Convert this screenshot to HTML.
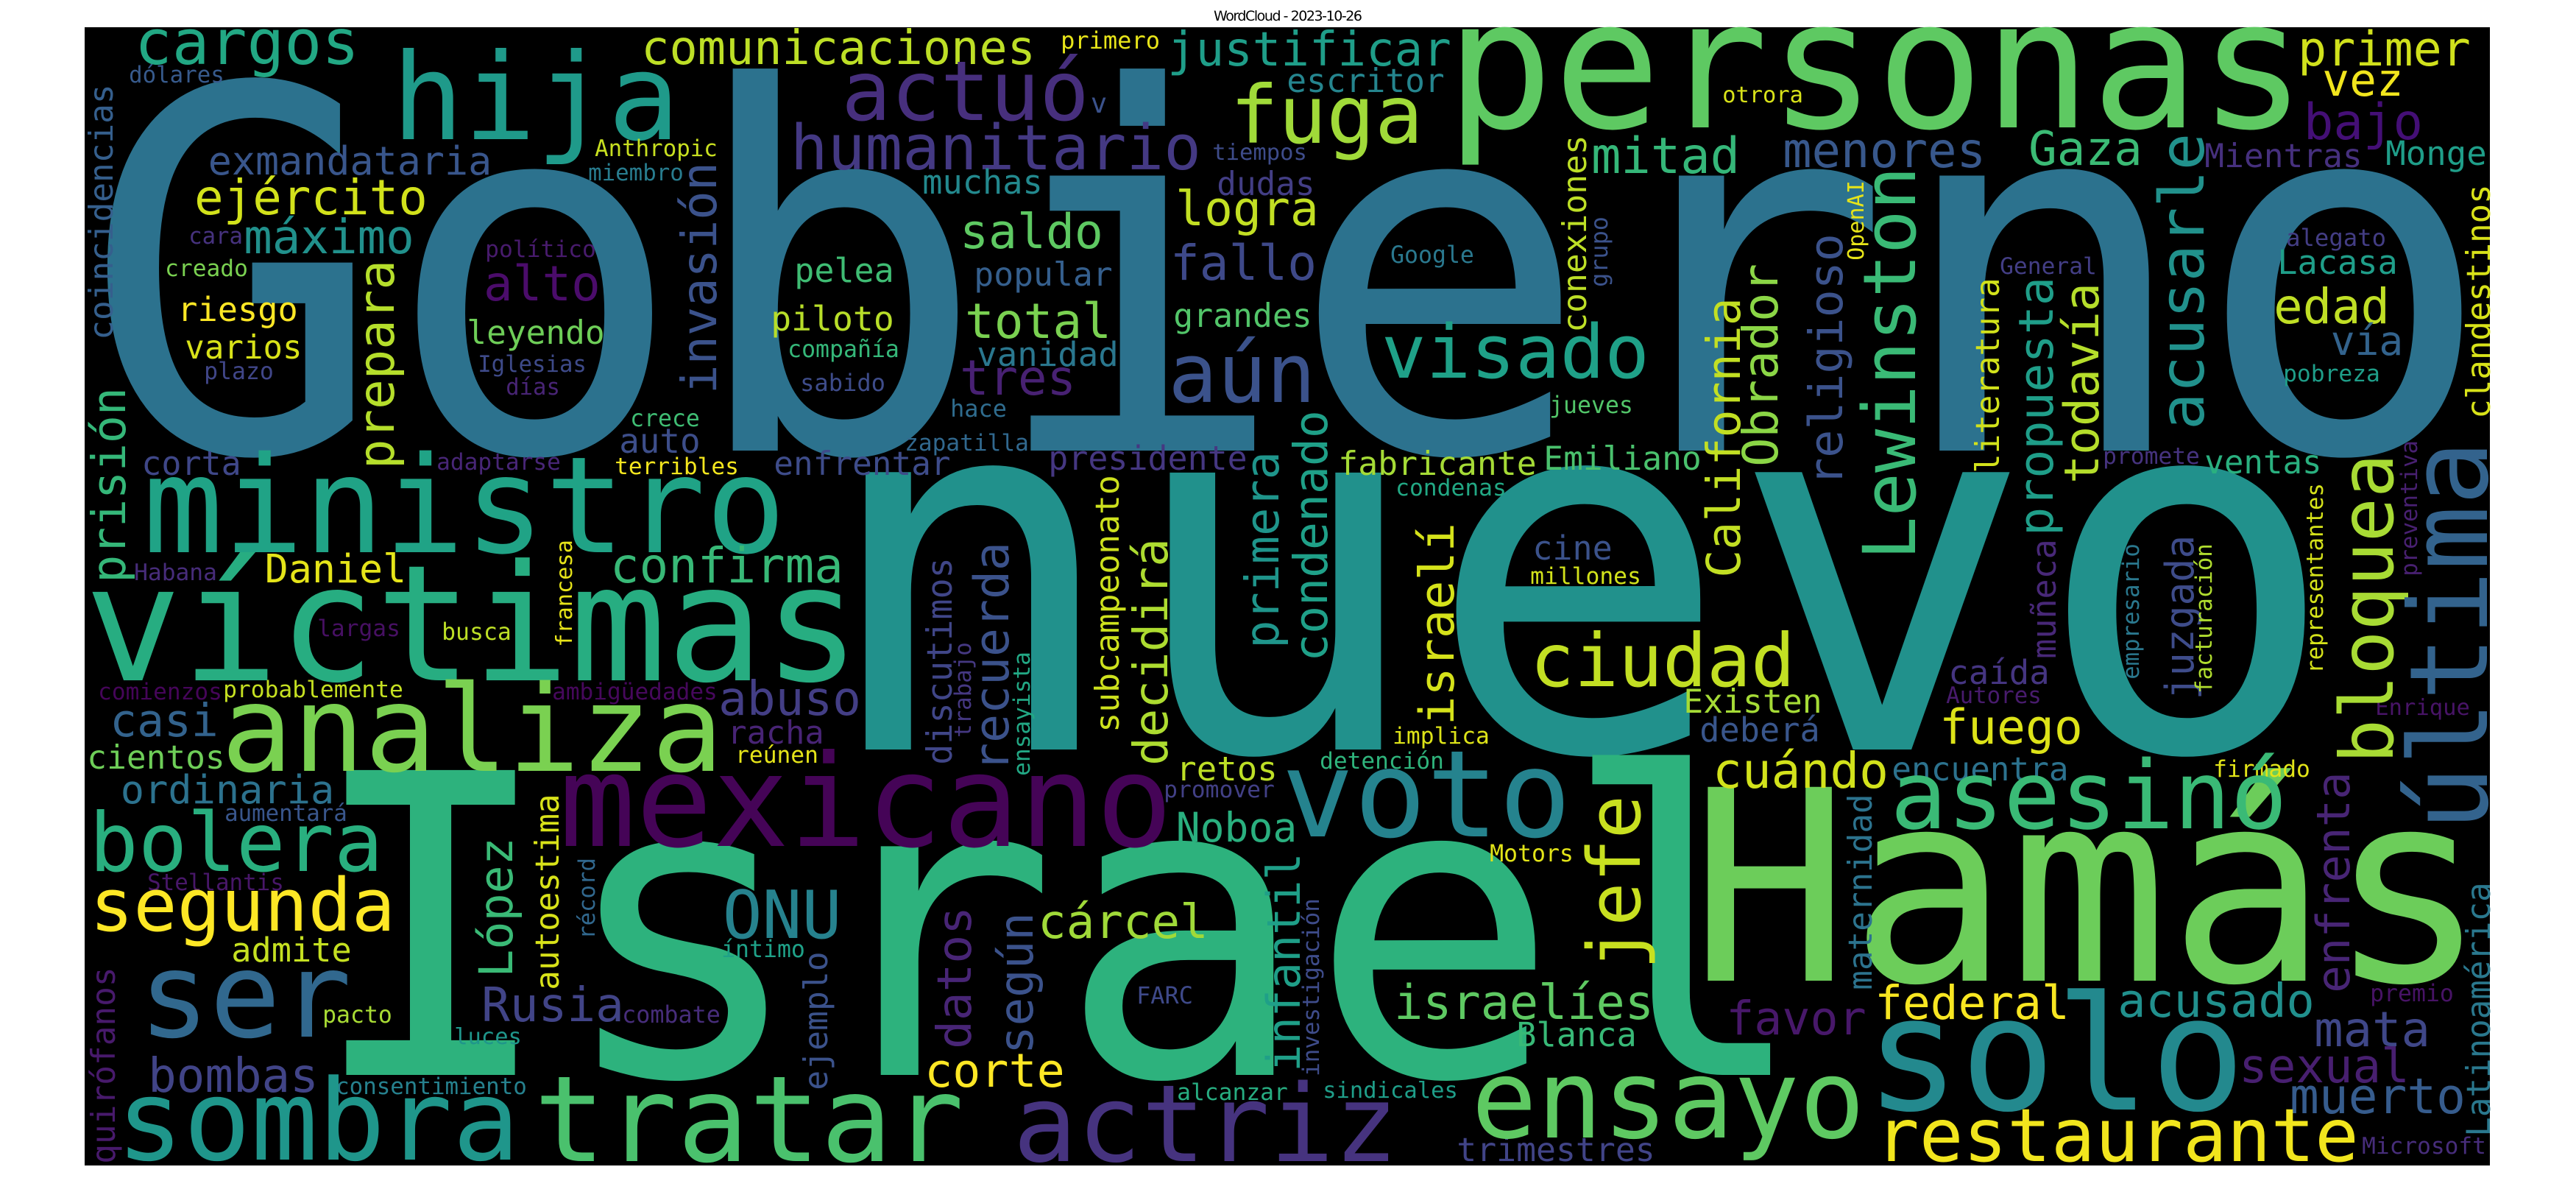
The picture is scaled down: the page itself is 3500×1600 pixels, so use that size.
<!DOCTYPE html>
<html>
<head>
<meta charset="utf-8">
<style>
html,body{margin:0;padding:0;background:#fff;}
svg{display:block;}
.w{font-family:"DejaVu Sans Mono","Liberation Mono",monospace;}
</style>
</head>
<body>
<svg id="cloud" width="3500" height="1600" viewBox="0 0 3500 1600" xmlns="http://www.w3.org/2000/svg">
  <rect x="0" y="0" width="3500" height="1600" fill="#ffffff"/>
  <text x="1750" y="28" text-anchor="middle" font-family="DejaVu Sans, Liberation Sans, sans-serif" font-size="19" textLength="202" fill="#000">WordCloud - 2023-10-26</text>
  <rect x="115" y="37" width="3268" height="1546" fill="#000000"/>
  <g id="words"></g>
</svg>
<script>
// horizontal words: text, colour, left, baseline, glyph width
const hWords = ["Gobierno","nuevo","Israel","Hamás","personas","víctimas","ministro","analiza","mexicano","hija","cargos","comunicaciones","dólares","exmandataria","Anthropic","miembro","ejército","máximo","cara","político","creado","alto","riesgo","varios","leyendo","Iglesias","plazo","días","crece","auto","corta","adaptarse","terribles","pelea","piloto","compañía","sabido","enfrentar","Habana","Daniel","confirma","actuó","humanitario","primero","justificar","escritor","v","fuga","tiempos","muchas","dudas","logra","saldo","mitad","Google","fallo","popular","total","grandes","visado","vanidad","aún","tres","hace","jueves","zapatilla","presidente","fabricante","Emiliano","condenas","cine","millones","ciudad","implica","detención","retos","promover","voto","Noboa","Motors","cárcel","FARC","israelíes","Blanca","corte","alcanzar","sindicales","actriz","trimestres","ensayo","tratar","caída","Autores","Enrique","Existen","deberá","fuego","cuándo","encuentra","firmado","asesinó","premio","favor","federal","acusado","solo","mata","sexual","muerto","restaurante","Microsoft","primer","vez","otrora","bajo","menores","Gaza","Mientras","Monge","General","promete","ventas","alegato","Lacasa","edad","vía","pobreza","largas","busca","comienzos","probablemente","ambigüedades","casi","abuso","racha","reúnen","cientos","ordinaria","aumentará","bolera","Stellantis","segunda","ONU","íntimo","admite","ser","Rusia","combate","pacto","luces","bombas","consentimiento","sombra"];
const hColors = ["#2c728e","#21918c","#2db27d","#6ccd5a","#5ec962","#27ad81","#20a386","#7ad151","#450457","#1f9a8a","#22a884","#bddf26","#375a8c","#39568c","#c8e020","#287c8e","#d2e21b","#21918c","#46327e","#481b6d","#7ad151","#4b0c6b","#fde725","#d8e219","#6ece58","#3e4a89","#404688","#482475","#3fbc73","#3d4e8a","#3f4788","#482677","#f4e61e","#3fbc73","#b8de29","#35b779","#3e4c8a","#3e4c8a","#472c7a","#e5e419","#38b977","#472f7d","#443983","#e7e419","#1f9e89","#25858e","#3b528b","#a0da39","#3e4c8a","#23898e","#433e85","#c2df23","#5ec962","#35b779","#2a788e","#3e4989","#355f8d","#7ad151","#52c569","#1fa188","#2a778e","#3b528b","#482173","#2f6c8e","#52c569","#31688e","#453781","#a5db36","#4ac16d","#22a884","#3b528b","#d2e21b","#c2df23","#dde318","#2fb47c","#bddf26","#424086","#25838e","#2ab07f","#e2e418","#a0da39","#3e4989","#5ec962","#38b977","#fde725","#27ad81","#1f9e89","#46337f","#414487","#5ec962","#4ac16d","#453581","#481b6d","#481467","#a5db36","#39568c","#dde318","#d2e21b","#2c728e","#e2e418","#3aba76","#471365","#48186a","#f8e621","#21908d","#23898e","#3f4788","#481f70","#365c8d","#f1e51d","#472d7b","#d0e11c","#f1e51d","#d8e219","#440f76","#38588c","#3bbb75","#46307e","#1f9e89","#433e85","#46337f","#2ab07f","#433d84","#1f9e89","#c0df25","#33638d","#1f9e89","#471063","#bddf26","#450559","#c5e021","#46085c","#33638d","#433e85","#482475","#e5e419","#6ece58","#2c728e","#39568c","#29af7f","#481769","#fde725","#26828e","#1fa188","#c5e021","#31688e","#414487","#472d7b","#a8db34","#1f968b","#414487","#26818e","#1f968b"];
const hLeft = [153,1152,449,2318,1979,128,205,310,770,542,188,875,177,286,810,801,268,335,258,661,226,661,244,254,637,651,279,689,858,844,195,595,837,1082,1050,1072,1089,1054,184,363,833,1150,1079,1443,1590,1751,1484,1678,1649,1256,1656,1601,1308,2166,1891,1594,1326,1315,1597,1883,1330,1594,1308,1293,2107,1231,1427,1821,2100,1898,2085,2081,2085,1894,1795,1601,1583,1751,1601,2026,1414,1546,1898,2063,1260,1601,1799,1385,1982,2008,735,2650,2646,3229,2290,2312,2639,2331,2573,3009,2576,3222,2349,2551,2881,2547,3148,3046,3115,2554,3211,3126,3159,2342,3134,2426,2760,2998,3244,2719,2859,2998,3108,3097,3093,3170,3104,433,602,135,305,752,153,980,991,1001,121,167,307,128,202,128,987,982,317,198,658,847,440,619,205,458,167];
const hBase = [612,1018,1460,1332,173,924,750,1047,1149,189,87,87,112,237,212,245,291,344,331,349,375,408,436,487,467,505,515,536,579,615,645,638,644,383,449,485,531,645,788,791,791,163,230,66,89,125,153,194,217,263,265,306,337,235,357,380,388,459,444,513,497,546,536,566,561,612,638,645,638,673,760,793,932,1010,1044,1060,1083,1136,1143,1170,1274,1363,1384,1421,1476,1494,1491,1577,1577,1545,1577,929,955,971,968,1007,1010,1070,1060,1055,1125,1360,1405,1384,1381,1507,1421,1470,1512,1577,1567,89,130,139,189,227,224,227,224,372,630,643,334,372,439,482,518,864,869,950,947,950,1000,971,1010,1036,1044,1091,1115,1183,1209,1264,1274,1300,1306,1408,1387,1389,1389,1418,1483,1486,1575];
const hWidth = [3196,1984,1977,1040,1140,1028,852,663,813,372,295,528,126,379,163,126,309,224,70,147,109,151,158,154,182,144,91,70,91,105,130,165,165,130,162,148,112,235,109,186,309,323,548,131,378,209,18,249,125,158,128,187,187,194,110,191,183,191,183,352,187,187,150,73,110,165,265,264,209,147,103,147,348,128,165,132,147,374,158,110,224,73,345,158,183,147,180,506,264,517,565,132,126,125,183,158,187,231,235,128,524,110,183,257,260,491,150,224,231,645,165,227,103,106,154,268,147,209,132,128,128,154,132,158,150,92,128,109,91,165,241,221,140,186,126,109,182,284,163,386,182,403,151,110,158,270,186,130,91,88,224,256,530];

// vertical words (read bottom-to-top): text, colour, baseline x, bottom y, glyph length
const vWords = ["coincidencias","invasión","prepara","prisión","conexiones","grupo","condenado","primera","decidirá","subcampeonato","israelí","discutimos","trabajo","recuerda","ensayista","jefe","infantil","investigación","datos","según","muñeca","empresario","juzgada","facturación","representantes","bloquea","última","preventiva","enfrenta","maternidad","Latinoamérica","acusarle","Lewinston","OpenAI","religioso","Obrador","California","literatura","propuesta","todavía","clandestinos","francesa","López","autoestima","récord","ejemplo","quirófanos"];
const vColors = ["#355f8d","#3b528b","#b5de2b","#35b779","#bddf26","#3b528b","#1fa088","#1f958b","#addc30","#cde11d","#d5e21a","#404688","#453882","#3b528b","#22a884","#c8e020","#1f9f88","#3e4c8a","#482576","#3b528b","#482878","#2a788e","#3e4c8a","#b0dd2f","#d5e21a","#a8db34","#33638d","#482071","#482575","#2c738e","#2a788e","#21918c","#3aba76","#e7e419","#3b528b","#8bd646","#c2df23","#d2e21b","#1f9e89","#b5de2b","#d8e219","#e7e419","#3aba76","#d8e219","#31688e","#3b528b","#481a6c"];
const vBaseX = [153,973,535,170,2155,2184,1803,1737,1586,1520,1975,1293,1319,1370,1399,2228,1766,1792,1319,1403,2793,2906,2980,3005,3156,3251,3379,3284,3192,2543,3383,2994,2602,2532,2503,2415,2364,2716,2789,2851,3383,777,696,759,808,1124,156];
const vBottom = [459,531,633,788,449,388,895,877,1036,992,981,1036,1000,1044,1052,1311,1452,1460,1421,1428,892,921,947,940,913,1031,1120,781,1345,1342,1541,579,755,352,656,630,781,640,724,653,566,877,1324,1342,1274,1478,1578];
const vLength = [342,307,276,258,263,92,334,260,301,344,267,276,126,304,165,225,290,238,186,185,157,181,217,200,255,409,513,181,293,261,340,393,523,105,335,268,373,260,344,265,313,142,183,261,107,183,262];

const NS = "http://www.w3.org/2000/svg";
const layer = document.getElementById("words");

function fontFor(word, glyphLen) {
  const n = Array.from(word).length;
  return glyphLen / (0.6 * n - 0.12);
}
function slug(s) {
  return s.normalize("NFD").replace(/[\u0300-\u036f]/g, "").toLowerCase().replace(/[^a-z0-9]+/g, "-");
}

hWords.forEach(function (word, i) {
  const fs = fontFor(word, hWidth[i]);
  const n = Array.from(word).length;
  const t = document.createElementNS(NS, "text");
  t.setAttribute("class", "w");
  t.setAttribute("x", (hLeft[i] - 0.06 * fs).toFixed(1));
  t.setAttribute("y", hBase[i]);
  t.setAttribute("font-size", fs.toFixed(1));
  t.setAttribute("textLength", (n * 0.6 * fs).toFixed(1));
  t.setAttribute("lengthAdjust", "spacingAndGlyphs");
  t.setAttribute("fill", hColors[i]);
  
  
  t.textContent = word;
  layer.appendChild(t);
});

vWords.forEach(function (word, i) {
  const fs = fontFor(word, vLength[i]);
  const n = Array.from(word).length;
  const t = document.createElementNS(NS, "text");
  t.setAttribute("class", "w");
  t.setAttribute("transform", "translate(" + vBaseX[i] + "," + vBottom[i] + ") rotate(-90)");
  t.setAttribute("x", (-0.06 * fs).toFixed(1));
  t.setAttribute("y", "0");
  t.setAttribute("font-size", fs.toFixed(1));
  t.setAttribute("textLength", (n * 0.6 * fs).toFixed(1));
  t.setAttribute("lengthAdjust", "spacingAndGlyphs");
  t.setAttribute("fill", vColors[i]);
  
  
  t.textContent = word;
  layer.appendChild(t);
});
</script>
</body>
</html>
